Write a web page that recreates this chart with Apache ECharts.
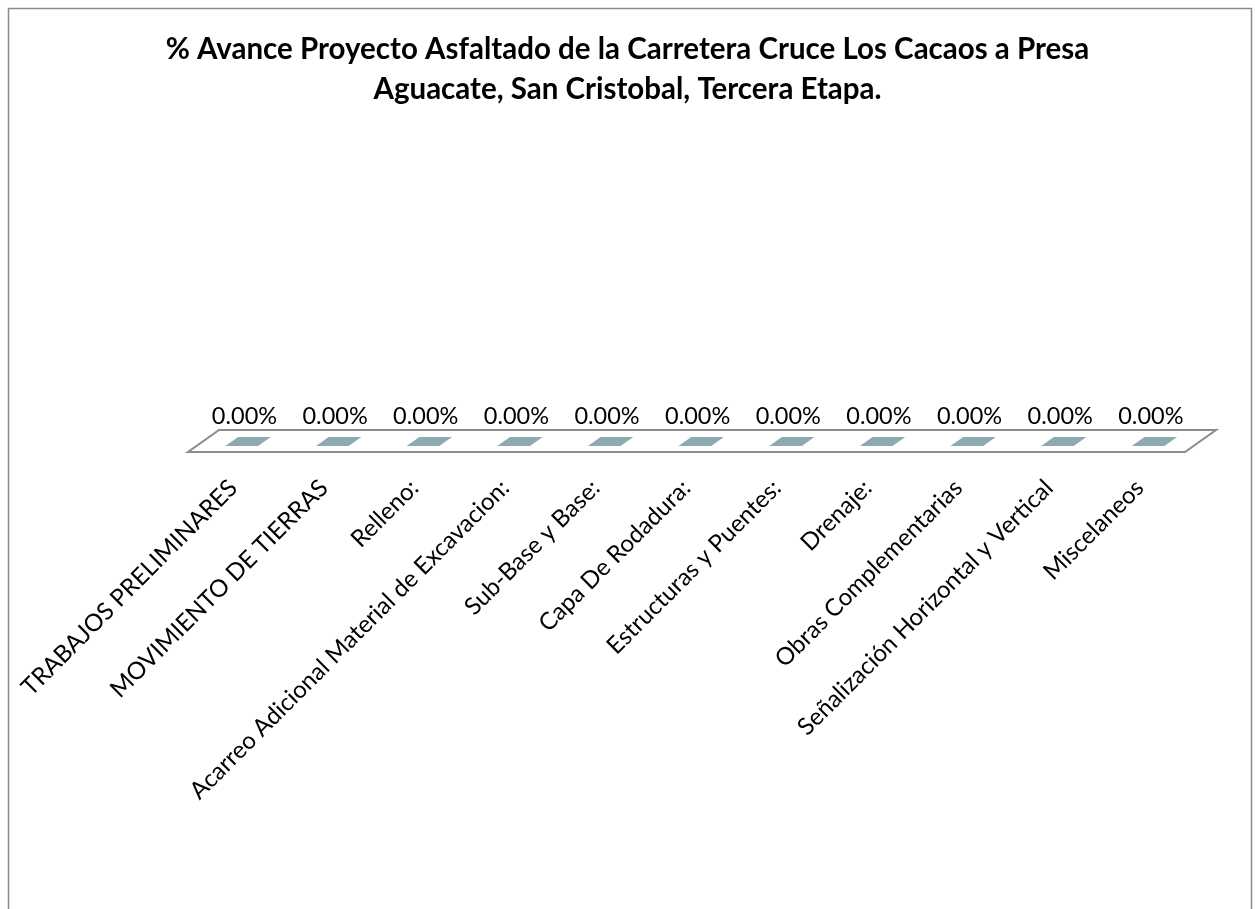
<!DOCTYPE html>
<html>
<head>
<meta charset="utf-8">
<script src="https://cdn.jsdelivr.net/npm/echarts@6/dist/echarts.min.js"></script>
<style>
html,body{margin:0;padding:0;background:#fff;}
#chart{width:1255px;height:909px;}
</style>
</head>
<body>
<div id="chart"></div>
<script>
var titleLines = [
  '% Avance Proyecto Asfaltado de la Carretera Cruce Los Cacaos a Presa',
  'Aguacate, San Cristobal, Tercera Etapa.'
];
var categories = [
  'TRABAJOS PRELIMINARES',
  'MOVIMIENTO DE TIERRAS',
  'Relleno:',
  'Acarreo Adicional Material de Excavacion:',
  'Sub-Base y Base:',
  'Capa De Rodadura:',
  'Estructuras y Puentes:',
  'Drenaje:',
  'Obras Complementarias',
  'Señalización Horizontal y Vertical',
  'Miscelaneos'
];
var avance = [0, 0, 0, 0, 0, 0, 0, 0, 0, 0, 0];

var FONT = 'Lato, "Open Sans", sans-serif';
var DX = 31, DY = -22;          // depth offset of the 3D floor
var F0 = 0.27, F1 = 0.68;       // bar depth range (fraction of depth)
var BAR_COLOR = '#8CAAB1';
var FLOOR_COLOR = '#8C8C8C';

var chart = echarts.init(document.getElementById('chart'), null, {renderer: 'canvas'});

var titleStyle = {fontFamily: FONT, fontWeight: 'bold', fontSize: 29.5, color: '#000'};
var option = {
  backgroundColor: '#ffffff',
  animation: false,
  title: titleLines.map(function (t, i) {
    return {text: t, left: 'center', top: 34 + i * 40, padding: 0, textStyle: titleStyle};
  }),
  graphic: [{
    type: 'rect', left: 6, top: 6, silent: true, z: 100,
    shape: {width: 1243, height: 1000},
    style: {fill: 'none', stroke: '#8a8a8a', lineWidth: 1.5}
  }],
  grid: {left: 188, right: 70, top: 150, bottom: 457, containLabel: false},
  xAxis: {
    type: 'category',
    data: categories,
    axisLine: {show: false},
    axisTick: {show: false},
    axisLabel: {
      interval: 0, rotate: 45, margin: 32,
      fontFamily: FONT, fontSize: 24, color: '#000'
    }
  },
  yAxis: {
    type: 'value', min: 0, max: 100, show: false,
    splitLine: {show: false}
  },
  series: [
    {
      type: 'custom',
      name: 'floor',
      data: [0],
      silent: true,
      z: 1,
      renderItem: function (params, api) {
        var cs = params.coordSys;
        var y = cs.y + cs.height;
        var x0 = cs.x, x1 = cs.x + cs.width;
        return {
          type: 'polygon',
          shape: {points: [[x0, y], [x1, y], [x1 + DX, y + DY], [x0 + DX, y + DY]]},
          style: {fill: '#ffffff', stroke: FLOOR_COLOR, lineWidth: 2}
        };
      }
    },
    {
      type: 'custom',
      name: 'Avance',
      data: avance.map(function (v, i) { return [i, v]; }),
      z: 2,
      encode: {x: 0, y: 1},
      renderItem: function (params, api) {
        var idx = api.value(0);
        var v = api.value(1);
        var base = api.coord([idx, 0]);
        var top = api.coord([idx, v]);
        var band = api.size([1, 0])[0];
        var bw = band * 0.36;
        var cx = base[0];
        var yb = base[1], yt = top[1];
        var l = cx - bw / 2, r = cx + bw / 2;
        var children = [];
        if (yb - yt > 0.5) {
          children.push({type: 'polygon', shape: {points: [
            [l + DX * F0, yb + DY * F0], [r + DX * F0, yb + DY * F0],
            [r + DX * F0, yt + DY * F0], [l + DX * F0, yt + DY * F0]]},
            style: {fill: BAR_COLOR}});
          children.push({type: 'polygon', shape: {points: [
            [r + DX * F0, yb + DY * F0], [r + DX * F1, yb + DY * F1],
            [r + DX * F1, yt + DY * F1], [r + DX * F0, yt + DY * F0]]},
            style: {fill: '#6f8d94'}});
        }
        children.push({type: 'polygon', shape: {points: [
          [l + DX * F0, yt + DY * F0], [r + DX * F0, yt + DY * F0],
          [r + DX * F1, yt + DY * F1], [l + DX * F1, yt + DY * F1]]},
          style: {fill: BAR_COLOR}});
        children.push({type: 'text', style: {
          text: v.toFixed(2) + '%',
          x: cx + DX * 0.36, y: yt + DY - 2,
          align: 'center', verticalAlign: 'bottom',
          fontFamily: FONT, fontSize: 23.5, fill: '#000'
        }});
        return {type: 'group', children: children};
      }
    }
  ]
};
chart.setOption(option);
</script>
</body>
</html>
